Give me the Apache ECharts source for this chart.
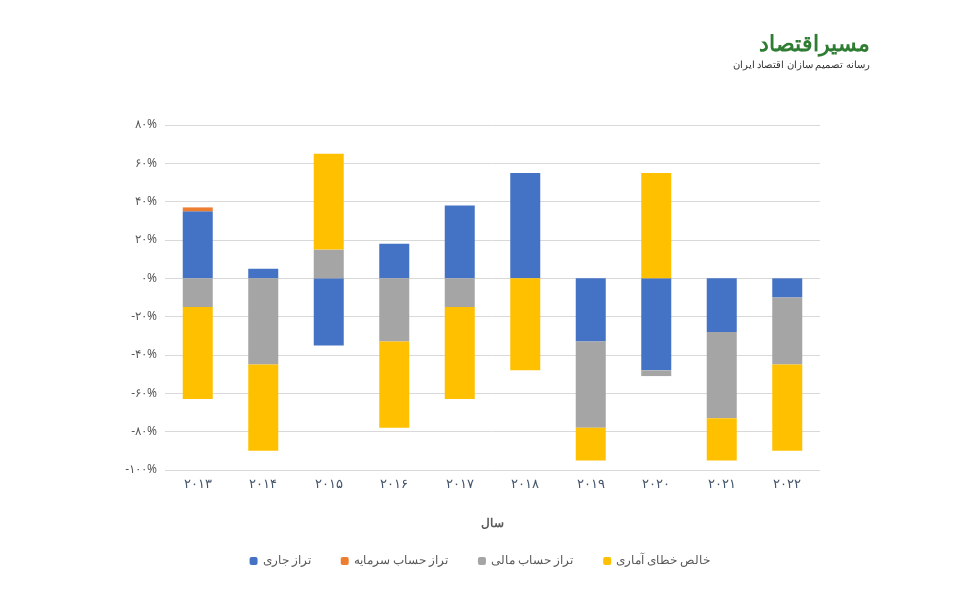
<!DOCTYPE html>
<html>
<head>
<meta charset="utf-8">
<script src="https://cdn.jsdelivr.net/npm/echarts@6/dist/echarts.min.js"></script>
<style>html,body{margin:0;background:#fff}#chart{width:960px;height:590px}</style>
</head>
<body>
<div id="chart"></div>
<script>
var chart = echarts.init(document.getElementById('chart'));

var years = ['۲۰۱۳', '۲۰۱۴', '۲۰۱۵', '۲۰۱۶', '۲۰۱۷', '۲۰۱۸', '۲۰۱۹', '۲۰۲۰', '۲۰۲۱', '۲۰۲۲'];
var current = [35, 5, -35, 18, 38, 55, -33, -48, -28, -10];      // تراز جاری
var capital = [2, 0, 0, 0, 0, 0, 0, 0, 0, 0];                    // تراز حساب سرمایه
var financial = [-15, -45, 15, -33, -15, 0, -45, -3, -45, -35];  // تراز حساب مالی
var errors = [-48, -45, 50, -45, -48, -48, -17, 55, -22, -45];   // خالص خطای آماری

var fa = function (v) {
    return String(v).replace(/\d/g, function (d) { return '۰۱۲۳۴۵۶۷۸۹'[d]; });
};

function bar(name, data, color) {
    return {
        name: name, type: 'bar', stack: 'total', data: data, barWidth: 30,
        itemStyle: { color: color }
    };
}

option = {
    textStyle: { fontFamily: 'Noto Sans', color: '#595959' },
    grid: { left: 165, right: 140, top: 125, bottom: 120 },
    graphic: [{
        type: 'text', right: 90, top: 34,
        style: { text: 'مسیراقتصاد', font: 'bold 22px "Noto Sans"', fill: '#2e7d32' }
    }, {
        type: 'text', right: 90, top: 60,
        style: { text: 'رسانه تصمیم سازان اقتصاد ایران', font: '10px "Noto Sans"', fill: '#333' }
    }],
    legend: {
        bottom: 18, itemWidth: 8, itemHeight: 8, itemGap: 30,
        textStyle: { color: '#595959', fontSize: 12 },
        data: ['تراز جاری', 'تراز حساب سرمایه', 'تراز حساب مالی', 'خالص خطای آماری']
    },
    xAxis: {
        type: 'category', data: years,
        name: 'سال', nameLocation: 'middle', nameGap: 48,
        nameTextStyle: { fontWeight: 'bold', color: '#595959' },
        axisLine: { show: false }, axisTick: { show: false },
        axisLabel: { color: '#44546a', fontSize: 13 }
    },
    yAxis: {
        type: 'value', min: -100, max: 80, interval: 20,
        axisLabel: { formatter: function (v) { return fa(v) + '%'; }, color: '#595959' },
        splitLine: { lineStyle: { color: '#d9d9d9' } }
    },
    series: [
        bar('تراز جاری', current, '#4472c4'),
        bar('تراز حساب سرمایه', capital, '#ed7d31'),
        bar('تراز حساب مالی', financial, '#a5a5a5'),
        bar('خالص خطای آماری', errors, '#ffc000')
    ]
};
chart.setOption(option);
</script>
</body>
</html>
